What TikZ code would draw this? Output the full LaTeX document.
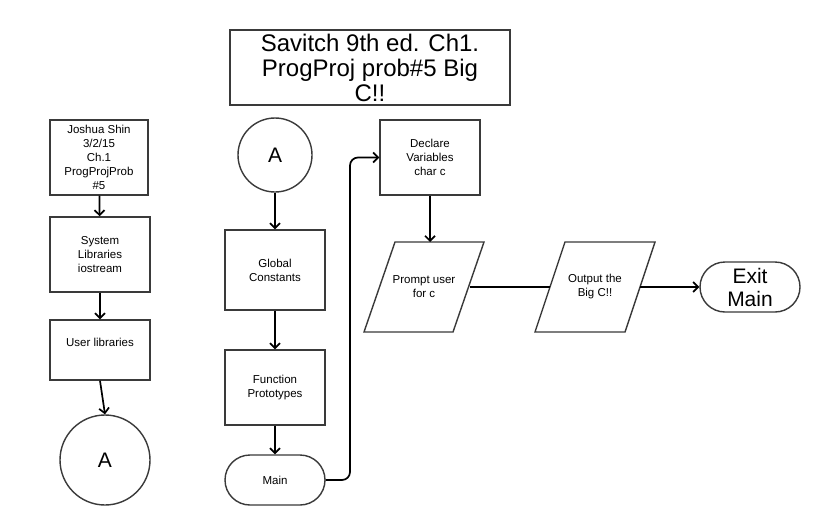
\documentclass[tikz,border=0pt]{standalone}
\usepackage{fontspec}
\setmainfont{Liberation Sans}
\usetikzlibrary{arrows.meta}
\definecolor{boxc}{HTML}{3A3A3A}
\begin{document}
\begin{tikzpicture}[x=1pt,y=-1pt,
  box/.style={draw=boxc, line width=1.4pt, minimum width=100pt, minimum height=75pt,
    align=center, inner sep=2pt, font=\fontsize{11.5}{14}\selectfont},
  term/.style={box, minimum height=50pt, rounded corners=25pt},
  circ/.style={circle, draw=boxc, line width=1.4pt, inner sep=0pt, font=\fontsize{21}{24}\selectfont},
  ptext/.style={align=center, inner sep=1pt, font=\fontsize{11.5}{14}\selectfont},
  outline/.style={draw=boxc, line width=1.4pt, line join=miter},
  conn/.style={draw=black, line width=1.7pt, -{Straight Barb[length=5pt,width=10pt]}},
  plain/.style={draw=black, line width=1.7pt}]
\useasboundingbox (0,0) rectangle (826,525);
\fill[white] (0,0) rectangle (826,525);

\node[box, minimum width=280pt, minimum height=75pt, font=\fontsize{24}{25}\selectfont] (title) at (370,67.5)
  {Savitch 9th ed. Ch1.\\ProgProj prob\#5 Big\\C!!};

% left column
\node[box, minimum width=98pt] (b1) at (99,157.5) {Joshua Shin\\3/2/15\\Ch.1\\ProgProjProb\\\#5};
\node[box] (b2) at (100,254.5) {System\\Libraries\\iostream};
\node[box, minimum height=60pt, text depth=16pt] (b3) at (100,350) {User libraries};
\node[circ, minimum size=90pt] (a1) at (105,460) {A};

% middle column
\node[circ, minimum size=74pt] (a2) at (275,155) {A};
\node[box, minimum height=80pt] (gc) at (275,270) {Global\\Constants};
\node[box] (fp) at (275,387.5) {Function\\Prototypes};
\node[term] (main) at (275,480) {Main};

% right part
\node[box] (decl) at (430,157.5) {Declare\\Variables\\char c};

\node[ptext] (prompt) at (424,287) {Prompt user\\for c};
\draw[outline] ([shift={(-60,45)}]prompt.center) -- ++(31,-90) -- ++(89,0) -- ++(-31,90) -- cycle;
\coordinate (prompt-n) at ([shift={(6,-45)}]prompt.center);
\coordinate (prompt-e) at ([shift={(45.5,0)}]prompt.center);

\node[ptext] (out) at (595,287) {Output the\\Big C!!};
\draw[outline] ([shift={(-60,45)}]out.center) -- ++(30,-90) -- ++(90,0) -- ++(-30,90) -- cycle;
\coordinate (out-w) at ([shift={(-45,0)}]out.center);
\coordinate (out-e) at ([shift={(45,0)}]out.center);

\node[term, font=\fontsize{21}{23}\selectfont] (exit) at (750,287) {Exit\\Main};

\draw[conn] (b1) -- (b2);
\draw[conn] (b2) -- (b3);
\draw[conn] (b3.south) -- (a1.north);
\draw[conn] (a2) -- (gc);
\draw[conn] (gc) -- (fp);
\draw[conn] (fp) -- (main);
\draw[conn, rounded corners=8pt] (main.east) -- (350,480) |- (decl.west);
\draw[conn] (decl.south) -- (prompt-n);
\draw[plain] (prompt-e) -- (out-w);
\draw[conn] (out-e) -- (exit.west);
\end{tikzpicture}
\end{document}
